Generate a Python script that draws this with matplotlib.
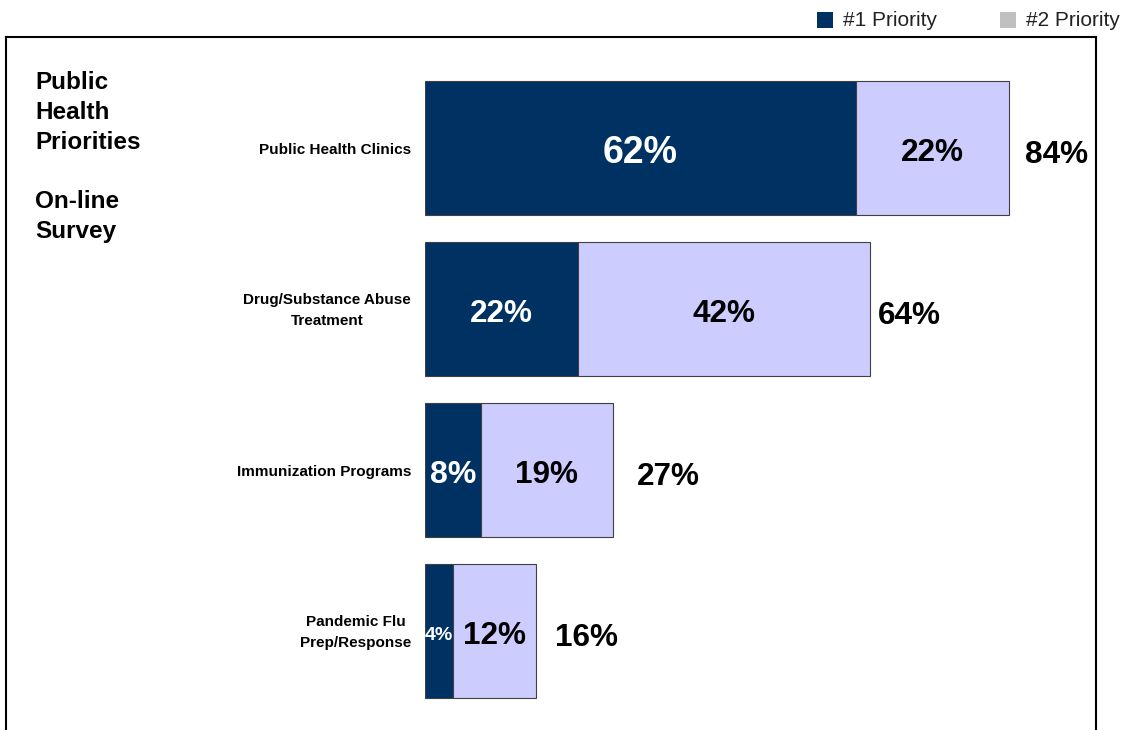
import numpy as np
import matplotlib
matplotlib.use("Agg")
import matplotlib.pyplot as plt
from matplotlib.patches import Rectangle
from matplotlib.lines import Line2D

plt.rcParams['font.family'] = ['Liberation Sans', 'DejaVu Sans']

categories = ["Public Health Clinics", "Drug/Substance Abuse\nTreatment",
              "Immunization Programs", "Pandemic Flu\nPrep/Response"]
first_priority = [62, 22, 8, 4]
second_priority = [22, 42, 19, 12]
totals = [84, 64, 27, 16]
series_names = ["#1 Priority", "#2 Priority"]

navy = "#003163"
lavender = "#ccccff"
legend_gray = "#c0c0c0"
edge = "#404040"

W, H = 1131, 730
fig = plt.figure(figsize=(W / 100, H / 100), dpi=100)

# axes: 0% sits at x=425px, 6.95 px per percent; category pitch 161 px
ax = fig.add_axes([425 / W, 0, 695 / W, 693 / H])
ax.set_xlim(0, 100)
ax.set_ylim(3.615, -0.689)
ax.axis("off")

y = np.arange(len(categories))
bar_h = 134 / 161
ax.barh(y, first_priority, height=bar_h, color=navy, edgecolor=edge, linewidth=0.8)
ax.barh(y, second_priority, left=first_priority, height=bar_h,
        color=lavender, edgecolor=edge, linewidth=0.8)

# segment labels
first_sizes = [27, 22.7, 23, 14]
for i in range(len(categories)):
    ax.text(first_priority[i] / 2, y[i] + 0.03, f"{first_priority[i]}%", color="white",
            fontsize=first_sizes[i], fontweight="bold", ha="center", va="center")
    ax.text(first_priority[i] + second_priority[i] / 2, y[i] + 0.03, f"{second_priority[i]}%",
            color="black", fontsize=22.7, fontweight="bold", ha="center", va="center")

# totals to the right of each bar
total_gap = [2.3, 1.15, 3.45, 2.7]
for i in range(len(categories)):
    ax.text(totals[i] + total_gap[i], y[i] + 0.045, f"{totals[i]}%", color="black",
            fontsize=22.7, fontweight="bold", ha="left", va="center")

# category names, right aligned left of the bars
for i, name in enumerate(categories):
    ax.text(-2.0, y[i] + 0.01, name, ha="right", va="center", multialignment="center",
            fontsize=11, fontweight="bold", linespacing=1.6)

# side heading
fig.text(35 / W, 1 - 71 / H, "Public\nHealth\nPriorities\n\nOn-line\nSurvey",
         ha="left", va="top", fontsize=17.5, fontweight="bold", linespacing=1.38)

# open frame around the plot area
for xs, ys in [([6, 6], [37, H + 5]), ([6, 1096], [37, 37]), ([1096, 1096], [37, H + 5])]:
    fig.add_artist(Line2D([x / W for x in xs], [1 - v / H for v in ys],
                          color="black", linewidth=1.5, transform=fig.transFigure))

# legend above the frame
for x0, col, label in [(817, navy, series_names[0]), (1000, legend_gray, series_names[1])]:
    fig.add_artist(Rectangle((x0 / W, 1 - 28 / H), 16 / W, 16 / H, facecolor=col,
                             edgecolor="none", transform=fig.transFigure))
    fig.text((x0 + 26) / W, 1 - 21 / H, label, ha="left", va="center",
             fontsize=15, color="#222222")

fig.savefig("out.png", dpi=100)
